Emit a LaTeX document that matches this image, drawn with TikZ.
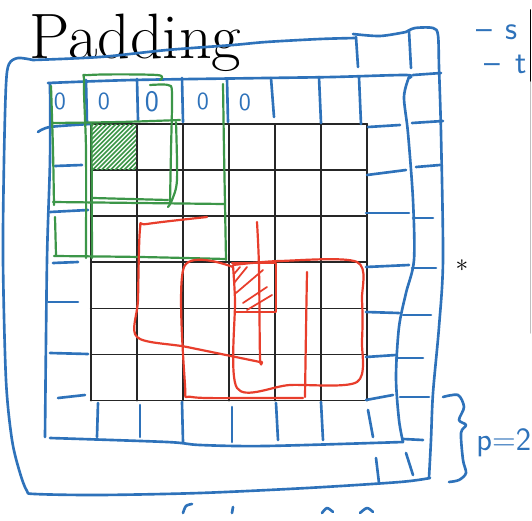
\documentclass[tikz,border=0pt]{standalone}
\usetikzlibrary{calc}
\definecolor{penblue}{RGB}{46,114,186}
\definecolor{pengreen}{RGB}{60,150,72}
\definecolor{penred}{RGB}{232,62,44}
\tikzset{
  bl/.style={draw=penblue,line width=1.5pt},
  gr/.style={draw=pengreen,line width=1.25pt},
  rd/.style={draw=penred,line width=1.25pt},
  gridl/.style={draw=black!85,line width=1.0pt},
  hand/.style={text=penblue,inner sep=0pt,font=\sffamily},
}
\begin{document}
\begin{tikzpicture}[x=0.02cm,y=-0.02cm,line cap=round,line join=round]
\useasboundingbox (0,0) rectangle (532,521);
\fill[white] (0,0) rectangle (532,521);

% title
\node[anchor=base west,inner sep=0pt,font=\fontsize{36.5}{40}\selectfont] (title) at (29,58) {Padding};

% black 6x6 grid
\foreach \i in {0,...,6} {
  \draw[gridl] ({90.7+46.1*\i},124) -- ({90.7+46.1*\i},400.6);
  \draw[gridl] (90.7,{124+46.1*\i}) -- (367.3,{124+46.1*\i});
}

% green hatch
\begin{scope}
  \clip (91,124) rectangle (136,169);
  \foreach \k in {0,...,22} \draw[draw=pengreen,line width=0.9pt] ({38+4.5*\k},175) -- ({38+4.5*\k+55},120);
\end{scope}

% ---------- blue outer frame ----------
\draw[bl] plot[smooth,tension=0.5] coordinates {(33,60) (18,58) (9,64) (6,85) (4,160) (3,260) (6,380) (12,440) (20,473) (27,491) (35,494) (100,495) (200,493) (307,488) (400,482) (430,478)};
\draw[bl] plot[smooth,tension=0.5] coordinates {(429,478) (431,440) (433,393) (439,327) (443,260) (441,133) (439,67) (438,35) (433,28) (415,28) (406,32)};
\draw[bl] plot[smooth,tension=0.5] coordinates {(33,60) (100,57) (167,50) (233,45) (266,42) (320,39) (356,38)};
\draw[bl] plot[smooth,tension=0.5] coordinates {(353,34) (380,36) (406,32)};

% ---------- blue inner frame ----------
\draw[bl] plot[smooth,tension=0.5] coordinates {(48,83) (133,80) (266,78) (333,77) (406,75) (409,78)};
\draw[bl] plot[smooth,tension=0.5] coordinates {(409,77) (404,97) (408,133) (413,200) (414,260) (406,293) (399,327) (396,377) (399,420) (403,442)};
\draw[bl] plot[smooth,tension=0.5] coordinates {(403,442) (266,446) (200,445) (167,442) (50,438)};
\draw[bl] plot[smooth,tension=0.5] coordinates {(50,84) (50,160) (47,260) (45,437)};

% top padding dividers
\foreach \xa/\ya/\xb/\yb in {86/80/87/123, 137/79/138/120, 182/78/183/122, 227/79/228/122, 271/78/274/117, 319/77/321/123, 359/77/361/124}
  \draw[bl] (\xa,\ya) -- (\xb,\yb);
% left padding dividers
\draw[bl] plot[smooth,tension=0.5] coordinates {(38,132) (50,127) (90,124)};
\foreach \xa/\ya/\xb/\yb in {55/166/82/165, 50/212/88/210, 53/263/78/262, 48/302/78/302, 50/353/88/354, 58/398/85/395}
  \draw[bl] (\xa,\ya) -- (\xb,\yb);
% bottom padding dividers
\foreach \xa/\ya/\xb/\yb in {98/403/97/437, 140/405/140/437, 182/402/183/442, 232/407/232/442, 276/403/278/440, 321/402/323/440, 368/410/373/437}
  \draw[bl] (\xa,\ya) -- (\xb,\yb);
% right padding dividers
\foreach \xa/\ya/\xb/\yb in {368/127/400/125, 367/175/406/170, 366/213/409/213, 366/267/409/265, 366/312/399/313, 366/357/396/355, 366/400/393/395}
  \draw[bl] (\xa,\ya) -- (\xb,\yb);
% outer ring dividers
\foreach \xa/\ya/\xb/\yb in {356/37/358/67, 409/31/411/68, 413/75/441/73, 412/123/443/121, 416/167/440/165, 413/218/433/218, 412/268/436/268, 403/315/431/315, 396/358/423/358, 400/397/429/397, 403/439/423/440, 376/458/379/483, 406/453/413/475}
  \draw[bl] (\xa,\ya) -- (\xb,\yb);

% zeros in the top padding row
\node[hand,font=\sffamily\fontsize{14}{16}\selectfont] (z1) at (60,101) {0};
\node[hand,font=\sffamily\fontsize{14}{16}\selectfont] (z2) at (104,101) {0};
\node[hand,font=\sffamily\fontsize{17}{19}\selectfont] (z3) at (152,102) {0};
\node[hand,font=\sffamily\fontsize{14}{16}\selectfont] (z4) at (203,101) {0};
\node[hand,font=\sffamily\fontsize{14}{16}\selectfont] (z5) at (245,102) {0};

% ---------- green filter boxes ----------
\draw[gr] plot[smooth,tension=0.5] coordinates {(51,86) (53,150) (54,205)};
\draw[gr] (55,217) -- (56,255);
\draw[gr] plot[smooth,tension=0.5] coordinates {(54,256) (140,257) (226,259)};
\draw[gr] plot[smooth,tension=0.5] coordinates {(223,84) (224,150) (225,204) (226,260)};
\draw[gr] plot[smooth,tension=0.5] coordinates {(53,202) (140,203) (224,204)};
\draw[gr] plot[smooth,tension=0.5] coordinates {(53,123) (120,122) (180,120)};
\draw[gr] plot[smooth,tension=0.5] coordinates {(86,258) (86,150) (84,82) (90,75) (157,75) (160,80)};
\draw[gr] plot[smooth,tension=0.5] coordinates {(150,85) (168,85) (172,93) (171,150) (170,203)};
\draw[gr] (93,198) -- (168,200);
\draw[gr] plot[smooth,tension=0.5] coordinates {(176,122) (177,180) (172,200) (168,207)};
\draw[gr] (91.5,124) -- (92,258);

% ---------- red filter boxes ----------
\draw[rd] plot[smooth,tension=0.5] coordinates {(207,217) (147,224) (140,229) (138,300) (137,337) (187,347) (260,362)};
\draw[rd] plot[smooth,tension=0.5] coordinates {(257,222) (259,267) (260,357) (262,362)};
\draw[rd] plot[smooth,tension=0.5] coordinates {(233,267) (184,267) (185,385) (192,397) (250,398) (303,398)};
\draw[rd] plot[smooth,tension=0.5] coordinates {(307,272) (306,330) (305,397)};
\draw[rd] plot[smooth,tension=0.5] coordinates {(233,265) (280,261) (357,262) (362,300) (362,340) (357,382) (290,385) (237,388) (235,300) (233,266)};
\draw[rd] (232,263) -- (276,263) -- (276,312) -- (235,312);
\foreach \xa/\ya/\xb/\yb in {234/283/247/267, 236/293/263/270, 243/303/267/287, 247/310/272/295, 234/274/240/267}
  \draw[draw=penred,line width=1pt] (\xa,\ya) -- (\xb,\yb);

% asterisk
\node[inner sep=0pt,font=\fontsize{14}{16}\selectfont] (conv) at (462,266) {$\ast$};

% brace and p=2
\draw[bl] plot[smooth,tension=0.5] coordinates {(443,397) (458,395) (464,407) (459,420) (466,425) (461,433) (463,460) (466,473) (459,480) (449,482)};
\node[hand,anchor=base west,font=\sffamily\fontsize{18.5}{21}\selectfont] (pad) at (476,450) {p=2};

% top-right notes (cut off in the source)
\node[hand,anchor=base west,font=\sffamily\fontsize{19}{21}\selectfont] (n1) at (476,39) {--\hspace{0.26cm}s};
\node[hand,anchor=base west,font=\sffamily\fontsize{19}{21}\selectfont] (n2) at (484,73) {--\hspace{0.3cm}t};
\draw[black,line width=1pt] (530.5,10) -- (530.5,82);
\draw[black!25,line width=0.6pt] (530.5,82) -- (530.5,333);

% bottom fragments (cut off)
\draw[bl] plot[smooth,tension=0.5] coordinates {(183,513) (186,506) (192,504)};
\draw[bl] (233,507) -- (232,513);
\draw[bl] plot[smooth,tension=0.5] coordinates {(322,513) (327,508) (333,512)};
\draw[bl] plot[smooth,tension=0.5] coordinates {(360,513) (367,508) (373,512)};
\end{tikzpicture}
\end{document}
